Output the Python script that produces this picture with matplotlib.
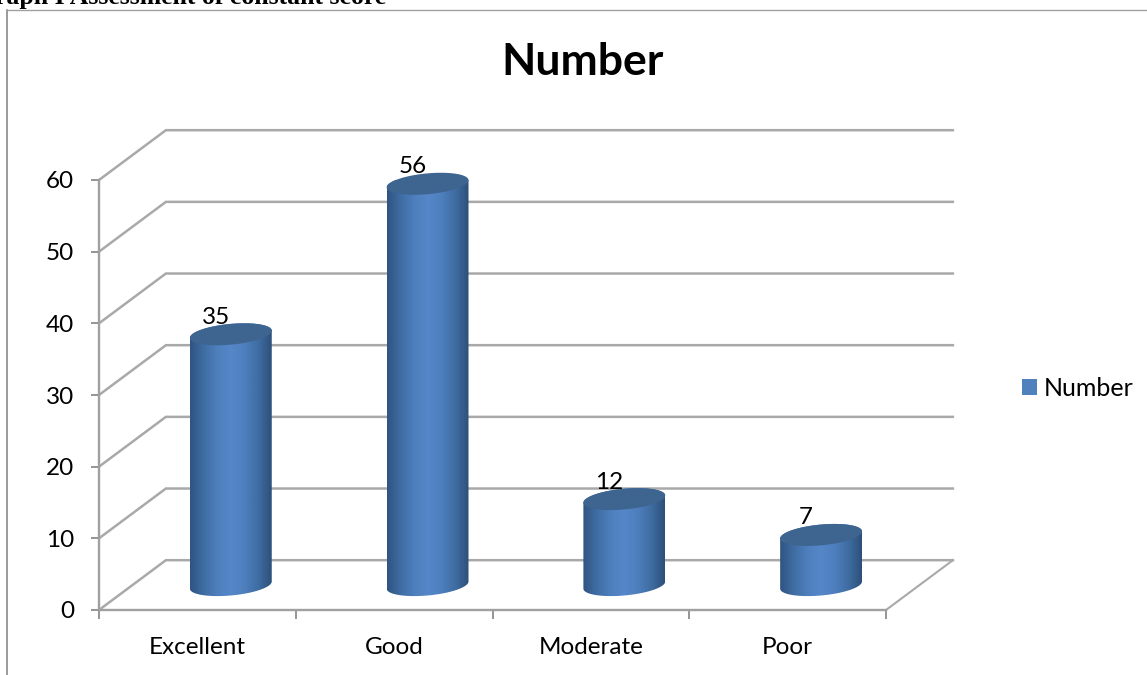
import numpy as np
import matplotlib
matplotlib.use("Agg")
import matplotlib.pyplot as plt
from matplotlib.colors import LinearSegmentedColormap
from matplotlib.lines import Line2D
from matplotlib.patches import Patch, Polygon

categories = ["Excellent", "Good", "Moderate", "Poor"]
values = [35, 56, 12, 7]
value_ticks = [0, 10, 20, 30, 40, 50, 60]
series_name = "Number"
caption = "Graph I Assessment of constant score"

W, H = 1147, 675
plt.rcParams["font.family"] = ["Lato", "DejaVu Sans"]
fig = plt.figure(figsize=(W / 100, H / 100), dpi=100, facecolor="white")


def px(n):
    """Pixels to points at this figure's resolution."""
    return n * 0.72


# The front plane of the fake-3D box is the real axes
ax = fig.add_axes([99 / W, (H - 610) / H, (886 - 99) / W, (610 - 180) / H])
ax.patch.set_visible(False)

DEPTH_X = 0.34   # category units
DEPTH_Y = 6.95   # value units
GRID = "#a9a9a9"

# Back wall, side wall and floor lines
for v in value_ticks:
    ax.plot([0, DEPTH_X, 4 + DEPTH_X], [v, v + DEPTH_Y, v + DEPTH_Y], color=GRID,
            lw=1.8, solid_joinstyle="miter", clip_on=False, zorder=1)
ax.plot([4, 4 + DEPTH_X], [0, DEPTH_Y], color=GRID, lw=1.5, clip_on=False, zorder=1)

# Cylinders: horizontal shading clipped to the silhouette, darker cap on top
shade = LinearSegmentedColormap.from_list(
    "cyl", ["#2f5480", "#3f6da3", "#4e7fbd", "#5587c9", "#4e7fbd", "#3f6da3", "#2d5079"])
gradient = np.linspace(0, 1, 256)[None, :]
HALF_W = 0.208
CAP_B = 1.45
CAP_TILT = 0.5


def ring(cx, cy, t):
    return np.column_stack([cx + HALF_W * np.cos(t),
                            cy + CAP_B * np.sin(t) + CAP_TILT * np.cos(t)])


for i, v in enumerate(values):
    cx = i + 0.5 + DEPTH_X / 2
    base = DEPTH_Y / 2
    top = v + base
    lower = ring(cx, base, np.linspace(np.pi, 2 * np.pi, 60))
    upper = ring(cx, top, np.linspace(0, np.pi, 60))
    body = Polygon(np.vstack([lower, upper]), closed=True, transform=ax.transData)
    im = ax.imshow(gradient, cmap=shade, aspect="auto", zorder=3,
                   extent=(cx - HALF_W, cx + HALF_W, base - CAP_B - 1, top + CAP_B + 1))
    im.set_clip_path(body)
    ax.add_patch(Polygon(ring(cx, top, np.linspace(0, 2 * np.pi, 120)), closed=True,
                         facecolor="#3e6490", edgecolor="none", zorder=4, clip_on=False))
    ax.annotate(str(v), xy=(cx, top), xytext=(px(-15), px(17)), textcoords="offset points",
                ha="center", va="center", fontsize=17.5, color="black", zorder=5,
                annotation_clip=False)

ax.set_xlim(0, 4)
ax.set_ylim(0, 60)

for side in ("top", "right"):
    ax.spines[side].set_visible(False)
for side in ("left", "bottom"):
    ax.spines[side].set_color("#a0a0a0")
    ax.spines[side].set_linewidth(1.7)

ax.set_yticks(value_ticks)
ax.tick_params(axis="y", length=px(8), width=1.3, color="#8c8c8c", pad=px(17),
               labelsize=17.5, labelcolor="black")
ax.set_xticks(range(5))
ax.set_xticklabels([])
ax.set_xticks(np.arange(4) + 0.5, categories, minor=True)
ax.tick_params(axis="x", which="major", length=px(9), width=1.3, color="#8c8c8c")
ax.tick_params(axis="x", which="minor", length=0, pad=px(27), labelsize=17.5,
               labelcolor="black")

# Chart title, legend and outer chart frame
fig.text(583 / W, (H - 62) / H, series_name, ha="center", va="center",
         fontsize=32, fontweight="bold", color="black")
fig.legend(handles=[Patch(facecolor="#4f81bd", edgecolor="none", label=series_name)],
           loc="center left", bbox_to_anchor=(1022 / W, (H - 388) / H), frameon=False,
           fontsize=18, handlelength=0.6, handleheight=0.6, handletextpad=0.25,
           borderpad=0, borderaxespad=0)

FRAME = "#8a8a8a"
fig.add_artist(Line2D([7 / W, 7 / W], [0, (H - 10) / H], color=FRAME, lw=1.2))
fig.add_artist(Line2D([7 / W, 1], [(H - 10) / H, (H - 10) / H], color="#a0a0a0", lw=1.0))

# Caption running off the top edge of the page
fig.text(386 / W, (H - 4) / H, caption, ha="right", va="baseline", fontsize=18.5,
         fontweight="bold", family=["Liberation Serif"], color="black")

fig.savefig("out.png", dpi=100)
